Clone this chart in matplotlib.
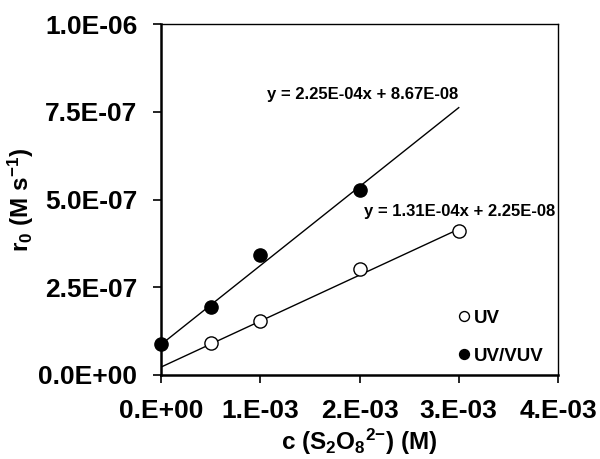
import numpy as np
import matplotlib.pyplot as plt

plt.rcParams['font.family'] = ['Liberation Sans', 'DejaVu Sans']
plt.rcParams['font.weight'] = 'bold'
plt.rcParams['mathtext.fontset'] = 'custom'
plt.rcParams['mathtext.rm'] = 'Liberation Sans:bold'
plt.rcParams['mathtext.it'] = 'Liberation Sans:bold'
plt.rcParams['mathtext.bf'] = 'Liberation Sans:bold'

# data
conc_uv = [0.5e-3, 1.0e-3, 2.0e-3, 3.0e-3]
rate_uv = [9.1e-8, 1.53e-7, 3.02e-7, 4.10e-7]
conc_vuv = [0.0, 0.5e-3, 1.0e-3, 2.0e-3]
rate_vuv = [8.8e-8, 1.94e-7, 3.42e-7, 5.27e-7]

fit_uv = (1.31e-4, 2.25e-8)
fit_vuv = (2.25e-04, 8.67e-08)
fit_range = [0.0, 3.0e-3]

x_ticks = [0.0, 1e-3, 2e-3, 3e-3, 4e-3]
x_labels = ["0.E+00", "1.E-03", "2.E-03", "3.E-03", "4.E-03"]
y_ticks = [0.0, 2.5e-7, 5.0e-7, 7.5e-7, 1.0e-6]
y_labels = ["0.0E+00", "2.5E-07", "5.0E-07", "7.5E-07", "1.0E-06"]

fig = plt.figure(figsize=(6.0, 4.59), dpi=100)
ax = fig.add_axes([161 / 600, 1 - 375 / 459, 397 / 600, 351 / 459])

xf = np.array(fit_range)
ax.plot(xf, fit_uv[0] * xf + fit_uv[1], color='black', lw=1.0, zorder=2)
ax.plot(xf, fit_vuv[0] * xf + fit_vuv[1], color='black', lw=1.0, zorder=2)

ax.plot(conc_uv, rate_uv, 'o', ms=9.5, mfc='white', mec='black', mew=1.0,
        ls='none', label='UV', zorder=3, clip_on=False)
ax.plot(conc_vuv, rate_vuv, 'o', ms=9.5, mfc='black', mec='black', mew=1.0,
        ls='none', label='UV/VUV', zorder=3, clip_on=False)

ax.text(1.065e-3, 8.0e-7, "y = 2.25E-04x + 8.67E-08", fontsize=12,
        fontweight='bold', ha='left', va='center')
ax.text(2.05e-3, 4.67e-7, "y = 1.31E-04x + 2.25E-08", fontsize=12,
        fontweight='bold', ha='left', va='center')

ax.set_xlim(0, 4e-3)
ax.set_ylim(0, 1e-6)
ax.set_xticks(x_ticks)
ax.set_xticklabels(x_labels)
ax.set_yticks(y_ticks)
ax.set_yticklabels(y_labels)
ax.tick_params(axis='both', direction='out', length=6, width=1.2,
               labelsize=19, pad=11)

for s in ['left', 'bottom']:
    ax.spines[s].set_linewidth(1.8)
for s in ['top', 'right']:
    ax.spines[s].set_linewidth(1.0)

ax.set_xlabel("c (S$_2$O$_8$$^{2{-}}$) (M)", fontsize=17.5, fontweight='bold',
              labelpad=3)
ax.set_ylabel("r$_0$ (M s$^{{-}1}$)", fontsize=17.5, fontweight='bold',
              labelpad=2)

leg = ax.legend(loc='lower left', bbox_to_anchor=(0.715, -0.008), frameon=False,
                fontsize=13.5, markerscale=0.75, handlelength=0.6,
                handletextpad=0.25, labelspacing=1.1, borderpad=0.2)
for t in leg.get_texts():
    t.set_fontweight('bold')

fig.savefig("out.png", dpi=100)
